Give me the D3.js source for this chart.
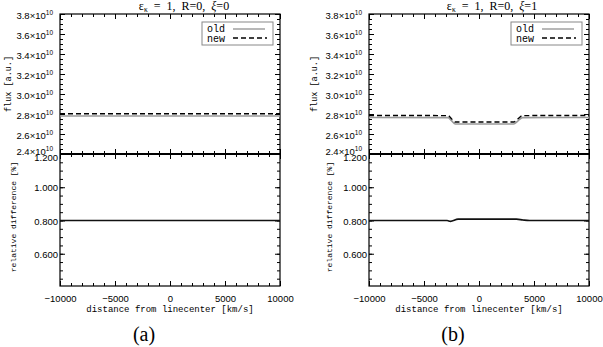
<!DOCTYPE html>
<html>
<head>
<meta charset="utf-8">
<script src="https://cdn.jsdelivr.net/npm/d3@7"></script>
<style>
  body { margin: 0; background: #fff; }
  svg { display: block; }
  .tick text { font-family: "Liberation Sans", Arial, sans-serif; font-size: 9.5px; fill: #000; }
  .domain { display: none; }
  .tick line { stroke: #000; stroke-width: 1; }
  .axis-label { font-family: "Liberation Mono", monospace; fill: #000; }
</style>
</head>
<body>
<svg width="603" height="347"></svg>
<script>
  // flux in units of 1e10, relative difference in %
  const velA = [-10000, 10000];
  const oldA = [2.78, 2.78];
  const newA = [2.802, 2.802];
  const relVelA = [-10000, 10000];
  const relA = [0.80, 0.80];

  const velB = [-10000, -2800, -2500, -2150, 3150, 3550, 3950, 10000];
  const oldB = [2.765, 2.764, 2.733, 2.700, 2.700, 2.732, 2.764, 2.765];
  const newB = [2.785, 2.784, 2.752, 2.720, 2.720, 2.752, 2.784, 2.785];
  const relVelB = [-10000, -2900, -2600, -1900, 3400, 4000, 4600, 10000];
  const relB = [0.800, 0.800, 0.795, 0.808, 0.808, 0.803, 0.800, 0.800];

  const fluxTicks = [2.4, 2.6, 2.8, 3.0, 3.2, 3.4, 3.6, 3.8];
  const relTicks = [0.6, 0.8, 1.0, 1.2];
  const velTicks = [-10000, -5000, 0, 5000, 10000];

  const svg = d3.select('svg');

  const panel = (x0, xi, vel, oldF, newF, relVel, rel, tag, titleX, fluxLabelX, relLabelX) => {
    const w = 220;
    const top = 14, mid = 154, bottom = 286;
    const x = d3.scaleLinear().domain([-10000, 10000]).range([x0, x0 + w]);
    const yF = d3.scaleLinear().domain([2.4, 3.8]).range([mid, top]);
    const yR = d3.scaleLinear().domain([0.406, 1.2]).range([bottom, mid]);
    const g = svg.append('g');

    const minorX = d3.range(-10000, 10001, 1000);

    // inward ticks on the horizontal edges
    const ticksX = (y, dir) => {
      g.append('g').attr('transform', `translate(0,${y})`)
        .call((dir < 0 ? d3.axisTop(x) : d3.axisBottom(x)).tickValues(minorX).tickSize(-3).tickFormat(''));
      g.append('g').attr('transform', `translate(0,${y})`)
        .call((dir < 0 ? d3.axisTop(x) : d3.axisBottom(x)).tickValues(velTicks).tickSize(-5).tickFormat(''));
    };
    ticksX(top, -1);
    ticksX(mid, 1);
    ticksX(mid, -1);
    ticksX(bottom, 1);

    // x tick labels
    const xAx = g.append('g').attr('transform', `translate(0,${bottom})`)
      .call(d3.axisBottom(x).tickValues(velTicks).tickSize(0).tickPadding(9).tickFormat(d3.format('d')));
    xAx.selectAll('text').text(d => d < 0 ? '\u2212' + Math.abs(d) : d);

    // flux y axis
    const minorF = d3.range(2.4, 3.8001, 0.05);
    g.append('g').attr('transform', `translate(${x0},0)`)
      .call(d3.axisLeft(yF).tickValues(minorF).tickSize(-3).tickFormat(''));
    g.append('g').attr('transform', `translate(${x0 + w},0)`)
      .call(d3.axisRight(yF).tickValues(minorF).tickSize(-3).tickFormat(''));
    g.append('g').attr('transform', `translate(${x0 + w},0)`)
      .call(d3.axisRight(yF).tickValues(fluxTicks).tickSize(-5).tickFormat(''));
    const fAx = g.append('g').attr('transform', `translate(${x0},0)`)
      .call(d3.axisLeft(yF).tickValues(fluxTicks).tickSize(-5));
    fAx.selectAll('text')
      .attr('x', -7)
      .attr('y', d => d === 2.4 ? -3 : 1.5)
      .each(function (d) {
        const t = d3.select(this).text(null);
        t.append('tspan').text(d3.format('.1f')(d) + '\u00d710');
        t.append('tspan').attr('dy', -4).attr('font-size', 6.5).text('10');
      });

    // rel y axis
    const minorR = d3.range(0.45, 1.2001, 0.05);
    g.append('g').attr('transform', `translate(${x0},0)`)
      .call(d3.axisLeft(yR).tickValues(minorR).tickSize(-3).tickFormat(''));
    g.append('g').attr('transform', `translate(${x0 + w},0)`)
      .call(d3.axisRight(yR).tickValues(minorR).tickSize(-3).tickFormat(''));
    g.append('g').attr('transform', `translate(${x0 + w},0)`)
      .call(d3.axisRight(yR).tickValues(relTicks).tickSize(-5).tickFormat(''));
    const rAx = g.append('g').attr('transform', `translate(${x0},0)`)
      .call(d3.axisLeft(yR).tickValues(relTicks).tickSize(-5).tickFormat(d3.format('.3f')));
    rAx.selectAll('text').attr('x', -2).attr('y', d => d === 1.2 ? 3.5 : 0.5);

    // frame
    g.append('rect').attr('x', x0).attr('y', top).attr('width', w).attr('height', bottom - top)
      .attr('fill', 'none').attr('stroke', '#000').attr('stroke-width', 1.2);
    g.append('line').attr('x1', x0).attr('x2', x0 + w).attr('y1', mid).attr('y2', mid)
      .attr('stroke', '#000').attr('stroke-width', 2.2);

    // lines
    const idx = d3.range(vel.length);
    const lineF = src => d3.line().x(i => x(vel[i])).y(i => yF(src[i])).curve(d3.curveMonotoneX);
    g.append('path').attr('d', lineF(oldF)(idx))
      .attr('fill', 'none').attr('stroke', '#9a9a9a').attr('stroke-width', 1.6);
    g.append('path').attr('d', lineF(newF)(idx))
      .attr('fill', 'none').attr('stroke', '#000').attr('stroke-width', 1.4).attr('stroke-dasharray', '5,3');
    const ridx = d3.range(relVel.length);
    g.append('path')
      .attr('d', d3.line().x(i => x(relVel[i])).y(i => yR(rel[i])).curve(d3.curveMonotoneX)(ridx))
      .attr('fill', 'none').attr('stroke', '#111').attr('stroke-width', 1.6);

    // legend
    const lx = x0 + 142, ly = 22;
    g.append('rect').attr('x', lx).attr('y', ly).attr('width', 71).attr('height', 23)
      .attr('fill', '#fff').attr('stroke', '#888').attr('stroke-width', 1);
    g.append('text').attr('x', lx + 5).attr('y', ly + 10).attr('class', 'axis-label')
      .attr('font-size', 10).text('old');
    g.append('text').attr('x', lx + 5).attr('y', ly + 19.5).attr('class', 'axis-label')
      .attr('font-size', 10).text('new');
    g.append('line').attr('x1', lx + 31).attr('x2', lx + 63).attr('y1', ly + 7).attr('y2', ly + 7)
      .attr('stroke', '#9a9a9a').attr('stroke-width', 1.4);
    g.append('line').attr('x1', lx + 31).attr('x2', lx + 65).attr('y1', ly + 16).attr('y2', ly + 16)
      .attr('stroke', '#000').attr('stroke-width', 1.4).attr('stroke-dasharray', '5,3');

    // title
    const title = g.append('text').attr('x', titleX).attr('y', 10)
      .attr('text-anchor', 'middle').attr('font-family', '"Liberation Serif", serif')
      .attr('font-size', 12).attr('xml:space', 'preserve').style('white-space', 'pre');
    title.append('tspan').text('\u03b5');
    title.append('tspan').attr('dy', 2).attr('font-size', 7.5).text('\u03ba');
    title.append('tspan').attr('dy', -2).text('  =  1,  R=0,  ');
    title.append('tspan').attr('font-style', 'italic').text('\u03be');
    title.append('tspan').text('=' + xi);

    // axis labels
    g.append('text').attr('class', 'axis-label').attr('font-size', 8.5)
      .attr('transform', `translate(${fluxLabelX},84) rotate(-90)`)
      .attr('text-anchor', 'middle').text('flux [a.u.]');
    g.append('text').attr('class', 'axis-label').attr('font-size', 8)
      .attr('transform', `translate(${relLabelX},217) rotate(-90)`)
      .attr('text-anchor', 'middle').text('relative difference [%]');
    g.append('text').attr('class', 'axis-label').attr('font-size', 9)
      .attr('x', x0 + w / 2).attr('y', 312).attr('text-anchor', 'middle')
      .text('distance from linecenter [km/s]');

    // tag
    g.append('text').attr('x', x0 + w / 2 - 26).attr('y', 341)
      .attr('text-anchor', 'middle').attr('font-family', '"Liberation Serif", serif')
      .attr('font-size', 20).text(tag);
  };

  panel(60, 0, velA, oldA, newA, relVelA, relA, '(a)', 184, 11, 16);
  panel(369, 1, velB, oldB, newB, relVelB, relB, '(b)', 492, 317, 332);
</script>
</body>
</html>
